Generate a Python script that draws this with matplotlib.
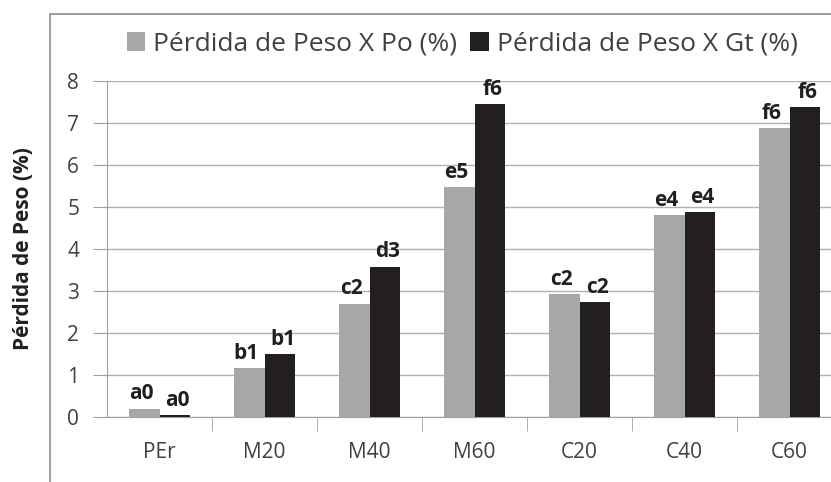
import numpy as np
import matplotlib
matplotlib.use("Agg")
import matplotlib.pyplot as plt
from matplotlib.patches import Rectangle

plt.rcParams['font.family'] = ['Open Sans', 'DejaVu Sans']

categorias = ['PEr', 'M20', 'M40', 'M60', 'C20', 'C40', 'C60']
perdida_po = [0.2, 1.17, 2.7, 5.47, 2.92, 4.8, 6.87]
perdida_gt = [0.05, 1.5, 3.58, 7.45, 2.73, 4.87, 7.37]
letras_po = ['a0', 'b1', 'c2', 'e5', 'c2', 'e4', 'f6']
letras_gt = ['a0', 'b1', 'd3', 'f6', 'c2', 'e4', 'f6']

fig = plt.figure(figsize=(8.31, 4.82), dpi=100)
# chart area border (extends past the right / bottom edge like the crop)
fig.patches.append(Rectangle((50/831, -0.05), 1.0, 1.05 - 14/482,
                             transform=fig.transFigure, fill=False,
                             edgecolor='#8c8c8c', linewidth=1.2))

ax = fig.add_axes([107/831, 1 - 417/482, 735/831, 336/482])

x = np.arange(len(categorias))
w = 0.286
b1 = ax.bar(x - w/2, perdida_po, w, color='#a6a7a9', label='Pérdida de Peso X Po (%)', zorder=3)
b2 = ax.bar(x + w/2, perdida_gt, w, color='#231f20', label='Pérdida de Peso X Gt (%)', zorder=3)

for i in range(len(categorias)):
    ax.text(x[i] - w/2 - 0.03, perdida_po[i] + 0.1, letras_po[i], ha='center', va='bottom',
            fontsize=15, fontweight='bold', color='#231f20')
    ax.text(x[i] + w/2 + 0.03, perdida_gt[i] + 0.1, letras_gt[i], ha='center', va='bottom',
            fontsize=15, fontweight='bold', color='#231f20')

ax.set_xlim(-0.5, 6.5)
ax.set_ylim(0, 8)
ax.set_yticks(range(0, 9))
ax.yaxis.grid(True, color='#b0b0b0', linewidth=1, zorder=0)
ax.set_xticks(x)
ax.set_xticklabels(categorias, fontsize=15, color='#404040')
ax.set_xticks(np.arange(0.5, 7, 1), minor=True)
ax.tick_params(axis='x', which='major', length=0, pad=18)
ax.tick_params(axis='x', which='minor', length=10, color='#a0a0a0', direction='out')
ax.tick_params(axis='y', length=10, color='#a0a0a0', labelsize=15, labelcolor='#404040', pad=10)
for s in ['top', 'right']:
    ax.spines[s].set_visible(False)
ax.spines['left'].set_color('#a0a0a0')
ax.spines['bottom'].set_color('#a0a0a0')

ax.set_ylabel('Pérdida de Peso (%)', fontsize=15, fontweight='bold', color='#231f20')
ax.yaxis.set_label_coords((34 - 107) / 735, 0.5)

fig.legend(handles=[b1, b2], loc='center', bbox_to_anchor=(462/831, 1 - 44/482), ncol=2,
           frameon=False, fontsize=19, handlelength=0.7, handleheight=0.7,
           handletextpad=0.3, columnspacing=0.5, labelcolor='#404040')

fig.savefig('out.png', dpi=100)
